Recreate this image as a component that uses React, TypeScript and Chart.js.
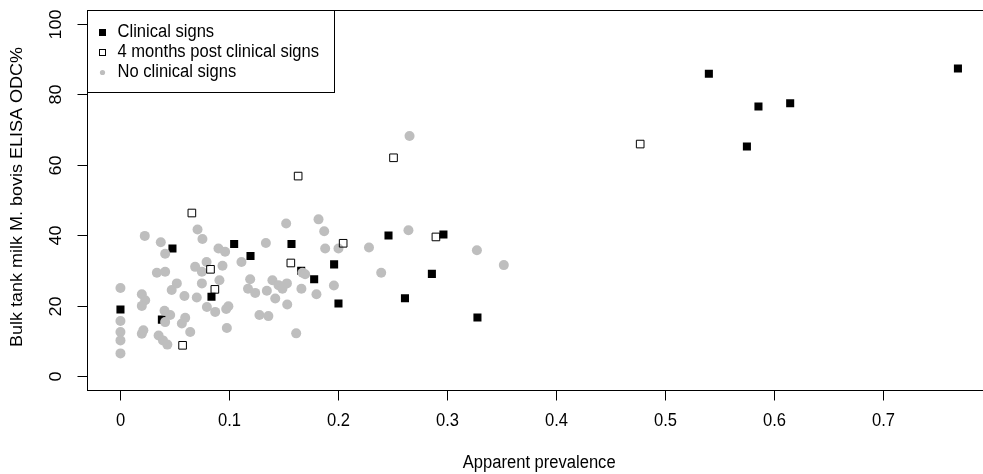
import React, { useEffect, useRef } from "react";
import { Chart, registerables } from "chart.js";

Chart.register(...registerables);

// Clinical signs (filled squares)
const clinicalX = [0, 0.038, 0.0477, 0.0835, 0.1043, 0.1193, 0.1569, 0.1658, 0.1777, 0.196, 0.2, 0.2459, 0.261, 0.2857, 0.2963, 0.3275, 0.5398, 0.5747, 0.5853, 0.6144, 0.7683];
const clinicalY = [18.9, 16.0, 36.2, 22.5, 37.5, 34.1, 37.5, 29.9, 27.5, 31.7, 20.6, 39.9, 22.1, 29.0, 40.2, 16.6, 85.9, 65.2, 76.6, 77.5, 87.4];

// 4 months post clinical signs (open squares)
const postX = [0.057, 0.0655, 0.0826, 0.0866, 0.1563, 0.163, 0.2043, 0.2505, 0.2894, 0.4768];
const postY = [8.7, 46.3, 30.3, 24.6, 32.1, 56.8, 37.7, 62.0, 39.5, 65.9];

// No clinical signs (grey dots)
const noneX = [
  0, 0, 0, 0, 0,
  0.0196, 0.0227, 0.0196, 0.0196, 0.021, 0.0223,
  0.0334, 0.041, 0.037, 0.041,
  0.0404, 0.0456, 0.041, 0.035, 0.039, 0.043,
  0.047, 0.0517, 0.0587, 0.0594, 0.0563, 0.064,
  0.0685, 0.0747, 0.07, 0.0747, 0.0707, 0.0752, 0.079,
  0.0793, 0.0869, 0.0899, 0.096, 0.0936, 0.0908, 0.099, 0.097, 0.0976,
  0.111, 0.117, 0.1236, 0.119, 0.1275, 0.1357, 0.1334, 0.1343,
  0.1394, 0.145, 0.1527, 0.1486, 0.142, 0.152, 0.153, 0.1612, 0.166,
  0.167, 0.1694, 0.1798, 0.1817, 0.1869, 0.1878, 0.2, 0.1958,
  0.228, 0.2392, 0.2642, 0.2652, 0.327, 0.3517,
];
const noneY = [
  25.0, 15.6, 12.5, 10.1, 6.4,
  23.2, 21.5, 19.9, 12.0, 13.0, 39.8,
  29.3, 29.6, 38.0, 34.7,
  18.5, 17.3, 15.3, 11.5, 10.1, 8.9,
  24.4, 26.3, 22.7, 16.5, 14.9, 12.5,
  31.0, 29.6, 22.3, 26.3, 41.6, 38.9, 32.4,
  19.6, 18.2, 36.2, 35.3, 31.3, 27.2, 19.8, 19.0, 13.6,
  32.4, 24.8, 23.6, 27.5, 17.3, 17.0, 37.8, 24.2,
  27.2, 25.8, 26.3, 24.8, 22.0, 43.3, 20.3, 12.1, 24.8,
  29.3, 28.9, 23.2, 44.5, 41.1, 36.2, 36.2, 25.7,
  36.5, 29.3, 41.4, 68.2, 35.7, 31.5,
];

const xTicks = [0, 0.1, 0.2, 0.3, 0.4, 0.5, 0.6, 0.7];
const yTicks = [0, 20, 40, 60, 80, 100];
const xTitle = "Apparent prevalence";
const yTitle = "Bulk tank milk M. bovis ELISA ODC%";
const legendLabels = ["Clinical signs", "4 months post clinical signs", "No clinical signs"];

const FONT = '"Liberation Sans", Arial, sans-serif';
const SQ = 0.92;

function drawText(ctx: CanvasRenderingContext2D, text: string, x: number, y: number, rot: number, align: CanvasTextAlign) {
  ctx.save();
  ctx.translate(x, y);
  ctx.scale(SQ, 1);
  if (rot) ctx.rotate(rot);
  ctx.textAlign = align;
  ctx.textBaseline = "middle";
  ctx.fillText(text, 0, 0);
  ctx.restore();
}

const rPlot = {
  id: "rPlot",
  afterDraw(chart: any) {
    const ctx = chart.ctx as CanvasRenderingContext2D;
    const a = chart.chartArea;
    const xs = chart.scales.x;
    const ys = chart.scales.y;
    ctx.save();
    ctx.strokeStyle = "#000";
    ctx.lineWidth = 1;
    // box
    ctx.strokeRect(Math.round(a.left) + 0.5, Math.round(a.top) + 0.5, Math.round(a.right - a.left), Math.round(a.bottom - a.top));
    // x ticks
    ctx.fillStyle = "#000";
    ctx.font = "18px " + FONT;
    const yb = Math.round(a.bottom) + 0.5;
    for (const t of xTicks) {
      const px = Math.round(xs.getPixelForValue(t)) + 0.5;
      ctx.beginPath();
      ctx.moveTo(px, yb);
      ctx.lineTo(px, yb + 10);
      ctx.stroke();
      drawText(ctx, String(t), px, 421, 0, "center");
    }
    const xl = Math.round(a.left) + 0.5;
    for (const t of yTicks) {
      const py = Math.round(ys.getPixelForValue(t)) + 0.5;
      ctx.beginPath();
      ctx.moveTo(xl, py);
      ctx.lineTo(xl - 10, py);
      ctx.stroke();
      drawText(ctx, String(t), 56, py, -Math.PI / 2, "center");
    }
    // titles
    drawText(ctx, xTitle, (a.left + a.right) / 2, 463, 0, "center");
    drawText(ctx, yTitle, 17, (a.top + a.bottom) / 2 - 3, -Math.PI / 2, "center");

    // legend
    const lx = Math.round(a.left) + 0.5;
    const ly = Math.round(a.top) + 0.5;
    ctx.fillStyle = "#fff";
    ctx.fillRect(lx, ly, 247, 82);
    ctx.strokeRect(lx, ly, 247, 82);
    const rows = [32.5, 52.5, 72.5];
    const sx = 102.5;
    // filled square
    ctx.fillStyle = "#000";
    ctx.fillRect(sx - 3.5, rows[0] - 3.5, 7, 7);
    // open square
    ctx.strokeRect(sx - 3, rows[1] - 3, 6, 6);
    // grey dot
    ctx.fillStyle = "#BEBEBE";
    ctx.beginPath();
    ctx.arc(sx, rows[2], 2.6, 0, Math.PI * 2);
    ctx.fill();
    ctx.fillStyle = "#000";
    legendLabels.forEach((l, i) => drawText(ctx, l, 117.5, rows[i], 0, "left"));
    ctx.restore();
  },
};

export default function App() {
  const ref = useRef<HTMLCanvasElement>(null);
  useEffect(() => {
    if (!ref.current) return;
    const chart = new Chart(ref.current, {
      type: "scatter",
      data: {
        datasets: [
          {
            label: legendLabels[1],
            data: postX.map((x, i) => ({ x, y: postY[i] })),
            pointStyle: "rect",
            pointRadius: 5.4,
            backgroundColor: "rgba(0,0,0,0)",
            borderColor: "#000",
            borderWidth: 1,
            order: 1,
          },
          {
            label: legendLabels[2],
            data: noneX.map((x, i) => ({ x, y: noneY[i] })),
            pointStyle: "circle",
            pointRadius: 5,
            backgroundColor: "#BEBEBE",
            borderColor: "#BEBEBE",
            borderWidth: 0,
            order: 2,
          },
          {
            label: legendLabels[0],
            data: clinicalX.map((x, i) => ({ x, y: clinicalY[i] })),
            pointStyle: "rect",
            pointRadius: 5.7,
            backgroundColor: "#000",
            borderColor: "#000",
            borderWidth: 0,
            order: 3,
          },
        ],
      },
      options: {
        animation: false,
        responsive: false,
        events: [],
        layout: { padding: { left: 87, right: 8.6, top: 10, bottom: 84 } },
        plugins: { legend: { display: false }, tooltip: { enabled: false } },
        scales: {
          x: { type: "linear", min: -0.0307, max: 0.799, display: false },
          y: { type: "linear", min: -4, max: 104, display: false },
        },
      },
      plugins: [rPlot],
    });
    return () => chart.destroy();
  }, []);
  return (
    <div style={{ position: "fixed", left: 0, top: 0, width: 983, height: 474, overflow: "hidden", background: "#fff" }}>
      <canvas ref={ref} width={1000} height={474} style={{ display: "block" }} />
    </div>
  );
}
